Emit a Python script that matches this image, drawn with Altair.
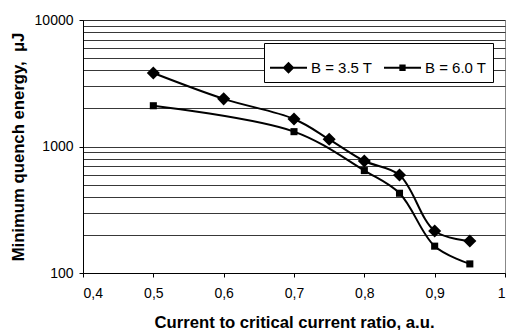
import altair as alt
import pandas as pd

# ---- data ----
series = ["B = 3.5 T", "B = 6.0 T"]
x_35 = [0.5, 0.6, 0.7, 0.75, 0.8, 0.85, 0.9, 0.95]
e_35 = [3810, 2380, 1650, 1140, 768, 595, 215, 179]
x_60 = [0.5, 0.7, 0.8, 0.85, 0.9, 0.95]
e_60 = [2100, 1310, 645, 427, 163, 118]
x_ticks = [0.4, 0.5, 0.6, 0.7, 0.8, 0.9, 1.0]
y_grid = [100, 200, 300, 400, 500, 600, 700, 800, 900,
          1000, 2000, 3000, 4000, 5000, 6000, 7000, 8000, 9000, 10000]
y_major = [100, 1000, 10000]

df = pd.DataFrame(
    {"ratio": x_35 + x_60,
     "energy": e_35 + e_60,
     "series": [series[0]] * len(x_35) + [series[1]] * len(x_60)}
)

FONT = "Liberation Sans"
major_test = " || ".join(f"datum.value == {v}" for v in y_major)

xenc = alt.X(
    "ratio:Q",
    scale=alt.Scale(domain=[0.4, 1.0], nice=False, zero=False),
    axis=alt.Axis(
        values=x_ticks,
        labelExpr="datum.value == 1 ? '1' : replace(format(datum.value, '.1f'), '.', ',')",
        title="Current to critical current ratio, a.u.",
        grid=False,
        tickSize=4,
        labelPadding=9,
        titlePadding=14,
    ),
)
yenc = alt.Y(
    "energy:Q",
    scale=alt.Scale(type="log", domain=[100, 10000], nice=False),
    axis=alt.Axis(
        values=y_grid,
        labelExpr=f"({major_test}) ? format(datum.value, 'd') : ''",
        title="Minimum quench energy, \u00a0\u03bcJ",
        grid=True,
        gridColor="#222222",
        gridWidth=1,
        gridOpacity=0.9,
        tickSize=4,
        tickOpacity={"condition": {"test": major_test, "value": 1}, "value": 0},
        labelPadding=6,
        titlePadding=7,
    ),
)

line = alt.Chart(df).mark_line(
    interpolate="catmull-rom", color="black", strokeWidth=2
).encode(x=xenc, y=yenc, detail="series:N")

pts = alt.Chart(df).mark_point(filled=True, color="black", opacity=1).encode(
    x=xenc,
    y=yenc,
    shape=alt.Shape("series:N", scale=alt.Scale(domain=series, range=["diamond", "square"]), legend=None),
    size=alt.Size("series:N", scale=alt.Scale(domain=series, range=[170, 50]), legend=None),
)

diamond_path = "M-1,-0.055H1V0.055H-1Z M-0.32,0L0,-0.32L0.32,0L0,0.32Z"
square_path = "M-1,-0.055H1V0.055H-1Z M-0.17,-0.17H0.17V0.17H-0.17Z"

leg = alt.Chart(df).transform_filter("false").mark_point(
    filled=True, color="black", opacity=1, size=1369
).encode(
    x=xenc,
    y=yenc,
    shape=alt.Shape(
        "series:N",
        scale=alt.Scale(domain=series, range=[diamond_path, square_path]),
        legend=alt.Legend(
            title=None,
            orient="none",
            legendX=181,
            legendY=23,
            direction="horizontal",
            columns=2,
            fillColor="white",
            strokeColor="black",
            padding=6,
            symbolSize=1369,
            symbolFillColor="black",
            symbolStrokeWidth=0,
            symbolOpacity=1,
            labelFont=FONT,
            labelFontSize=15,
            labelColor="black",
            labelOffset=4,
            columnPadding=11,
        ),
    ),
)

chart = (
    alt.layer(line, pts, leg)
    .resolve_scale(shape="independent", size="independent")
    .properties(
        width=422,
        height=253,
        autosize=alt.AutoSizeParams(type="none"),
        padding={"left": 83, "top": 20, "right": 2, "bottom": 57},
        background="white",
    )
    .configure_view(stroke="#888888", strokeWidth=1)
    .configure_axis(
        labelFont=FONT,
        labelFontSize=14,
        labelColor="black",
        titleFont=FONT,
        titleFontSize=16.7,
        titleFontWeight="bold",
        titleColor="black",
        domainColor="black",
        domainWidth=1,
        tickColor="black",
    )
)

chart.save("out.html", embed_options={"renderer": "svg", "actions": False})
